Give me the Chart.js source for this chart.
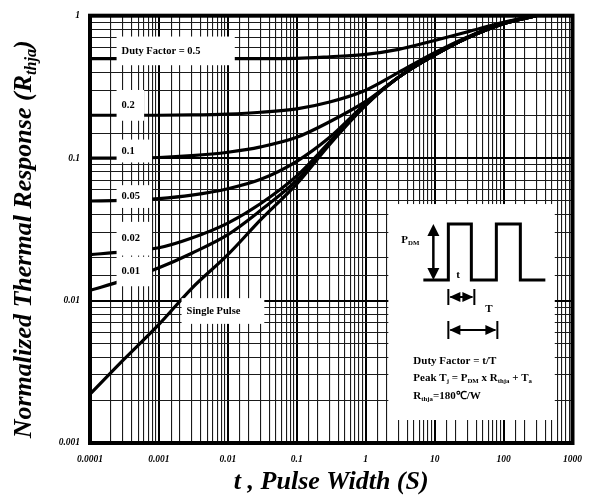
<!DOCTYPE html>
<html>
<head>
<meta charset="utf-8">
<script src="https://cdn.jsdelivr.net/npm/chart.js@4.4.0/dist/chart.umd.min.js"></script>
<style>
  html, body { margin: 0; padding: 0; background: #fff; }
</style>
</head>
<body>
<canvas id="chart" width="593" height="495"></canvas>
<script>
'use strict';

// pulse width t (s) where the curves were read
const pulseWidths = [0.0001, 0.0003, 0.001, 0.003, 0.01, 0.03, 0.1, 0.3, 1, 3, 10, 30, 100, 300];

// normalized thermal response for each duty factor
const duty05 = [0.5, 0.5, 0.5, 0.5, 0.5, 0.5, 0.502, 0.515, 0.535, 0.58, 0.67, 0.77, 0.9, 1.0];
const duty02 = [0.2, 0.2, 0.2, 0.201, 0.204, 0.21, 0.222, 0.248, 0.3, 0.4, 0.55, 0.71, 0.89, 1.0];
const duty01 = [0.1, 0.1, 0.101, 0.104, 0.11, 0.12, 0.14, 0.18, 0.25, 0.37, 0.53, 0.7, 0.88, 1.0];
const duty005 = [0.05, 0.0505, 0.052, 0.055, 0.061, 0.071, 0.095, 0.14, 0.242, 0.37, 0.53, 0.7, 0.88, 1.0];
const duty002 = [0.021, 0.022, 0.0235, 0.0275, 0.035, 0.048, 0.075, 0.13, 0.24, 0.37, 0.53, 0.7, 0.88, 1.0];
const duty001 = [0.0118, 0.0138, 0.017, 0.0215, 0.029, 0.043, 0.07, 0.128, 0.237, 0.37, 0.53, 0.7, 0.88, 1.0];
const singlePulse = [0.0022, 0.0038, 0.0068, 0.0122, 0.021, 0.037, 0.066, 0.125, 0.235, 0.37, 0.53, 0.7, 0.88, 1.0];

const xTickLabels = ['0.0001', '0.001', '0.01', '0.1', '1', '10', '100', '1000'];
const yTickLabels = ['0.001', '0.01', '0.1', '1'];

const SERIF = '"Liberation Serif", "Times New Roman", serif';

// white label patches sitting on the curves (data coords: x0, x1, yTop, yBottom)
const curveTags = [
    { text: 'Duty Factor = 0.5', box: [2.43e-4, 0.0126, 0.714, 0.449] },
    { text: '0.2', box: [2.43e-4, 6.1e-4, 0.301, 0.183] },
    { text: '0.1', box: [2.43e-4, 7.94e-4, 0.135, 0.0933] },
    { text: '0.05', box: [2.43e-4, 7.94e-4, 0.0646, 0.0447] },
    { text: '0.02', box: [2.43e-4, 7.94e-4, 0.0357, 0.0207] },
    { text: '0.01', box: [2.43e-4, 7.94e-4, 0.0203, 0.0126] },
    { text: 'Single Pulse', box: [2.13e-3, 0.0338, 0.0104, 0.00686] }
];

const insetBox = [2.13, 553, 0.0476, 0.00145];

function toXY(ys) {
    return pulseWidths.map((t, i) => ({ x: t, y: ys[i] }));
}

function isDecade(v) {
    if (!v) return false;
    const e = Math.log10(v);
    return Math.abs(e - Math.round(e)) < 1e-6;
}

function decadeLabel(labels) {
    return function(value) {
        if (!isDecade(value)) return '';
        const e = Math.round(Math.log10(value));
        return labels.find(l => Math.round(Math.log10(parseFloat(l))) === e) || '';
    };
}

function gridColor(ctx) {
    return isDecade(ctx.tick && ctx.tick.value) ? '#000' : '#1a1a1a';
}

function gridWidth(ctx) {
    return isDecade(ctx.tick && ctx.tick.value) ? 2 : 1.1;
}

// text runs with subscripts, baseline at y
function drawRich(ctx, parts, x, y, size, style, align) {
    const font = s => `${style} ${s}px ${SERIF}`;
    let total = 0;
    parts.forEach(p => {
        ctx.font = font(p.sub ? size * 0.62 : size);
        total += ctx.measureText(p.t).width;
    });
    let cx = align === 'center' ? x - total / 2 : x;
    parts.forEach(p => {
        const s = p.sub ? size * 0.62 : size;
        ctx.font = font(s);
        ctx.fillText(p.t, cx, p.sub ? y + size * 0.2 : y);
        cx += ctx.measureText(p.t).width;
    });
}

function arrowHead(ctx, x, y, dx, dy, len, half) {
    // tip at (x, y), pointing along (dx, dy)
    ctx.beginPath();
    ctx.moveTo(x, y);
    ctx.lineTo(x - dx * len - dy * half, y - dy * len - dx * half);
    ctx.lineTo(x - dx * len + dy * half, y - dy * len + dx * half);
    ctx.closePath();
    ctx.fill();
}

const decorations = {
    id: 'decorations',
    afterDatasetsDraw(chart) {
        const { ctx, chartArea, scales: { x, y } } = chart;
        ctx.save();

        // patches and curve labels
        curveTags.forEach(tag => {
            const l = x.getPixelForValue(tag.box[0]);
            const r = x.getPixelForValue(tag.box[1]);
            const t = y.getPixelForValue(tag.box[2]);
            const b = y.getPixelForValue(tag.box[3]);
            ctx.fillStyle = '#fff';
            ctx.fillRect(l, t, r - l, b - t);
            ctx.fillStyle = '#000';
            ctx.font = `bold 10.5px ${SERIF}`;
            ctx.textBaseline = 'middle';
            ctx.textAlign = 'left';
            ctx.fillText(tag.text, l + 5, (t + b) / 2);
        });

        // inset with the pulse train
        const il = x.getPixelForValue(insetBox[0]);
        const ir = x.getPixelForValue(insetBox[1]);
        const it = y.getPixelForValue(insetBox[2]);
        const ib = y.getPixelForValue(insetBox[3]);
        ctx.fillStyle = '#fff';
        ctx.fillRect(il, it, ir - il, ib - it);

        ctx.strokeStyle = '#000';
        ctx.fillStyle = '#000';
        ctx.lineWidth = 3;
        ctx.lineJoin = 'miter';
        const low = it + 76, high = it + 20;
        ctx.beginPath();
        ctx.moveTo(il + 35, low);
        ctx.lineTo(il + 60, low);
        ctx.lineTo(il + 60, high);
        ctx.lineTo(il + 83, high);
        ctx.lineTo(il + 83, low);
        ctx.lineTo(il + 108, low);
        ctx.lineTo(il + 108, high);
        ctx.lineTo(il + 132, high);
        ctx.lineTo(il + 132, low);
        ctx.lineTo(il + 157, low);
        ctx.stroke();

        // P_DM arrow
        ctx.lineWidth = 2.5;
        ctx.beginPath();
        ctx.moveTo(il + 45, high + 8);
        ctx.lineTo(il + 45, low - 8);
        ctx.stroke();
        arrowHead(ctx, il + 45, high, 0, -1, 12, 6);
        arrowHead(ctx, il + 45, low, 0, 1, 12, 6);

        // t and T spans
        ctx.lineWidth = 2;
        [[93, 86, 8], [126, 109, 9]].forEach(([dy, xEnd, bar]) => {
            const yy = it + dy;
            ctx.beginPath();
            ctx.moveTo(il + 60, yy - bar);
            ctx.lineTo(il + 60, yy + bar);
            ctx.moveTo(il + xEnd, yy - bar);
            ctx.lineTo(il + xEnd, yy + bar);
            ctx.moveTo(il + 62, yy);
            ctx.lineTo(il + xEnd - 2, yy);
            ctx.stroke();
            arrowHead(ctx, il + 61, yy, -1, 0, 11, 5);
            arrowHead(ctx, il + xEnd - 1, yy, 1, 0, 11, 5);
        });

        ctx.textBaseline = 'alphabetic';
        drawRich(ctx, [{ t: 'P' }, { t: 'DM', sub: true }], il + 13, it + 39, 11, 'bold', 'left');
        drawRich(ctx, [{ t: 't' }], il + 68, it + 74, 11, 'bold', 'left');
        drawRich(ctx, [{ t: 'T' }], il + 97, it + 108, 11, 'bold', 'left');
        drawRich(ctx, [{ t: 'Duty Factor = t/T' }], il + 25, it + 160, 11, 'bold', 'left');
        drawRich(ctx, [{ t: 'Peak T' }, { t: 'j', sub: true }, { t: ' = P' }, { t: 'DM', sub: true },
            { t: ' x R' }, { t: 'thja', sub: true }, { t: ' + T' }, { t: 'a', sub: true }],
            il + 25, it + 177, 11, 'bold', 'left');
        drawRich(ctx, [{ t: 'R' }, { t: 'thja', sub: true }, { t: '=180\u2103/W' }],
            il + 25, it + 195, 11, 'bold', 'left');

        // heavy frame
        ctx.lineWidth = 4;
        ctx.strokeRect(chartArea.left, chartArea.top,
            chartArea.right - chartArea.left, chartArea.bottom - chartArea.top);

        // axis titles
        ctx.fillStyle = '#000';
        drawRich(ctx, [{ t: 't , Pulse Width (S)' }], (chartArea.left + chartArea.right) / 2, 489,
            26, 'italic bold', 'center');
        ctx.save();
        ctx.translate(31, (chartArea.top + chartArea.bottom) / 2 + 10);
        ctx.rotate(-Math.PI / 2);
        drawRich(ctx, [{ t: 'Normalized Thermal Response (R' }, { t: 'thja', sub: true }, { t: ')' }],
            0, 0, 26, 'italic bold', 'center');
        ctx.restore();

        ctx.restore();
    }
};

const curveStyle = {
    borderColor: '#000',
    borderWidth: 3.2,
    pointRadius: 0,
    showLine: true,
    fill: false,
    cubicInterpolationMode: 'monotone'
};

new Chart(document.getElementById('chart'), {
    type: 'scatter',
    data: {
        datasets: [
            { label: 'Duty Factor = 0.5', data: toXY(duty05), ...curveStyle },
            { label: '0.2', data: toXY(duty02), ...curveStyle },
            { label: '0.1', data: toXY(duty01), ...curveStyle },
            { label: '0.05', data: toXY(duty005), ...curveStyle },
            { label: '0.02', data: toXY(duty002), ...curveStyle },
            { label: '0.01', data: toXY(duty001), ...curveStyle },
            { label: 'Single Pulse', data: toXY(singlePulse), ...curveStyle }
        ]
    },
    options: {
        responsive: false,
        animation: false,
        devicePixelRatio: 1,
        layout: { padding: { top: 12, right: 15, left: 0, bottom: 0 } },
        plugins: {
            legend: { display: false },
            tooltip: { enabled: false }
        },
        scales: {
            x: {
                type: 'logarithmic',
                min: 0.0001,
                max: 1000,
                afterFit: scale => { scale.height = 52; },
                border: { display: false },
                grid: { color: gridColor, lineWidth: gridWidth, drawTicks: false },
                ticks: {
                    autoSkip: false,
                    maxRotation: 0,
                    padding: 11,
                    color: '#000',
                    font: { family: SERIF, size: 9.5, style: 'italic', weight: 'bold' },
                    callback: decadeLabel(xTickLabels)
                }
            },
            y: {
                type: 'logarithmic',
                min: 0.001,
                max: 1,
                afterFit: scale => { scale.width = 90; },
                border: { display: false },
                grid: { color: gridColor, lineWidth: gridWidth, drawTicks: false },
                ticks: {
                    autoSkip: false,
                    padding: 10,
                    color: '#000',
                    font: { family: SERIF, size: 9.5, style: 'italic', weight: 'bold' },
                    callback: decadeLabel(yTickLabels)
                }
            }
        }
    },
    plugins: [decorations]
});
</script>
</body>
</html>
